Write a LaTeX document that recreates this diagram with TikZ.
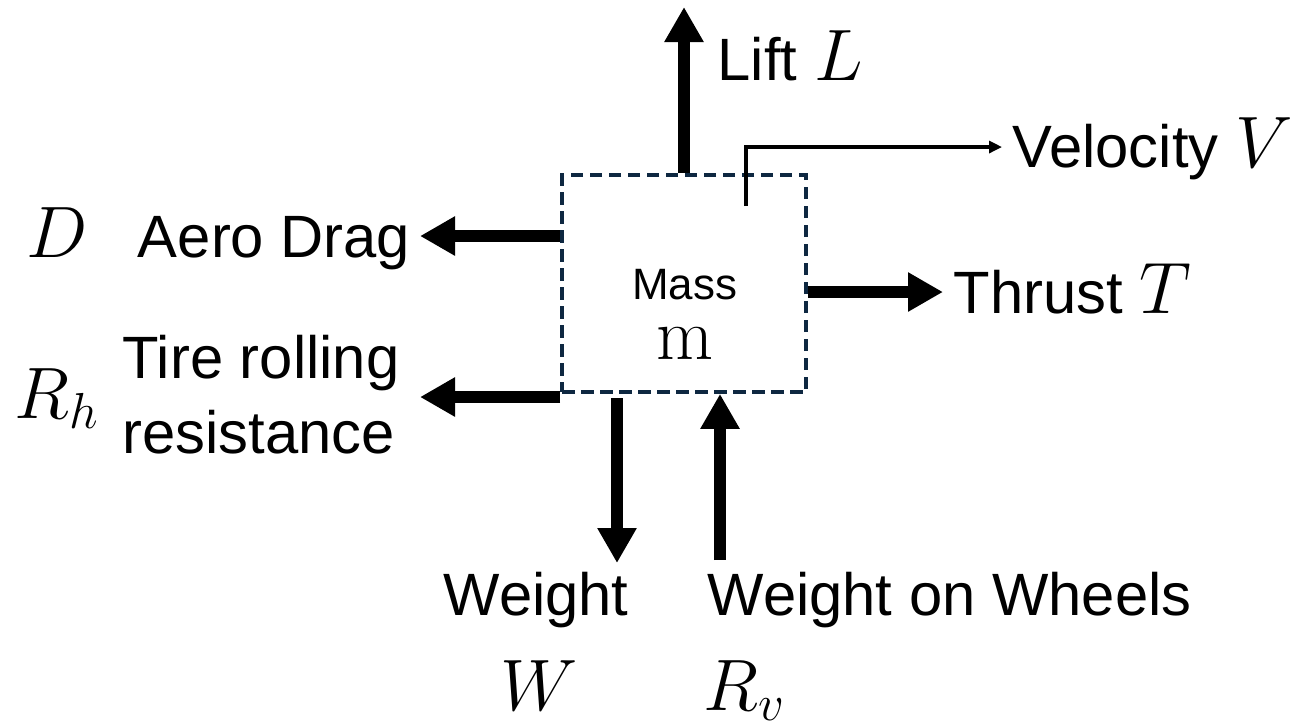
\documentclass[tikz,border=0pt]{standalone}
\usepackage{fontspec}
\setsansfont{Liberation Sans}
\usepackage{tikz}
\usetikzlibrary{positioning,arrows.meta,calc}
\definecolor{boxnavy}{HTML}{0E2841}
\newcommand{\fsym}[1]{{\fontsize{20.5}{24}\selectfont$#1$}}
\tikzset{
  massbox/.style={draw=boxnavy,line width=1.05pt,dash pattern=on 1.25mm off 0.65mm,minimum width=24.4mm,minimum height=21.7mm,inner sep=0pt},
  force/.style={-{Triangle[length=3.5mm,width=3.7mm]},line width=1.2mm},
  velarr/.style={-{Triangle[length=1.3mm,width=1.2mm]},line width=0.9pt},
  lbl/.style={font=\sffamily\fontsize{17}{21}\selectfont,inner sep=0pt,anchor=base west}
}

\begin{document}
\begin{tikzpicture}
\useasboundingbox (0,0) rectangle (12.99,-7.26);
\node[massbox] (mass) at (6.84,-2.835) {};
\node[font=\sffamily\fontsize{12.5}{15}\selectfont,align=center,inner sep=0pt,anchor=south] (masstxt) at (6.847,-3.60)
  {Mass\\[2.1pt]{\rmfamily\fontsize{21}{24}\selectfont m}};
\coordinate (lifttip) at (6.84,-0.07);
\coordinate (velstart) at (7.46,-2.06);
\coordinate (veltip) at (10.02,-1.47);
\coordinate (dragtip) at (4.20,-2.36);
\coordinate (tiretip) at (4.20,-3.97);
\coordinate (thrusttip) at (9.43,-2.92);
\coordinate (weightstart) at (6.17,-3.98);
\coordinate (weighttip) at (6.17,-5.63);
\coordinate (wheelbase) at (7.20,-5.60);
\node[lbl] (lift) at (7.17,-0.80) {Lift \fsym{L}};
\node[lbl] (vel) at (10.12,-1.67) {Velocity \fsym{V}};
\node[lbl,anchor=base east] (drag) at (4.11,-2.57) {Aero Drag};
\node[lbl] (dsym) at (0.26,-2.57) {\fsym{D}};
\node[lbl] (tire) at (1.22,-3.78) {Tire rolling};
\node[lbl] (resist) at (1.22,-4.53) {resistance};
\node[lbl] (rh) at (0.14,-4.18) {\fsym{R_h}};
\node[lbl] (thrust) at (9.53,-3.13) {Thrust \fsym{T}};
\node[lbl] (weight) at (4.43,-6.15) {Weight};
\node[lbl] (wsym) at (5.00,-7.10) {\fsym{W}};
\node[lbl] (wheels) at (7.07,-6.15) {Weight on Wheels};
\node[lbl] (rv) at (7.03,-7.10) {\fsym{R_v}};
\draw[force] (mass.north) -- (lifttip);
\draw[velarr] (velstart) |- (veltip);
\draw[force] (mass.west |- dragtip) -- (dragtip);
\draw[force] (mass.west |- tiretip) -- (tiretip);
\draw[force] (mass.east |- thrusttip) -- (thrusttip);
\draw[force] (weightstart) -- (weighttip);
\draw[force] (wheelbase) -- (wheelbase |- mass.south);
\end{tikzpicture}
\end{document}
